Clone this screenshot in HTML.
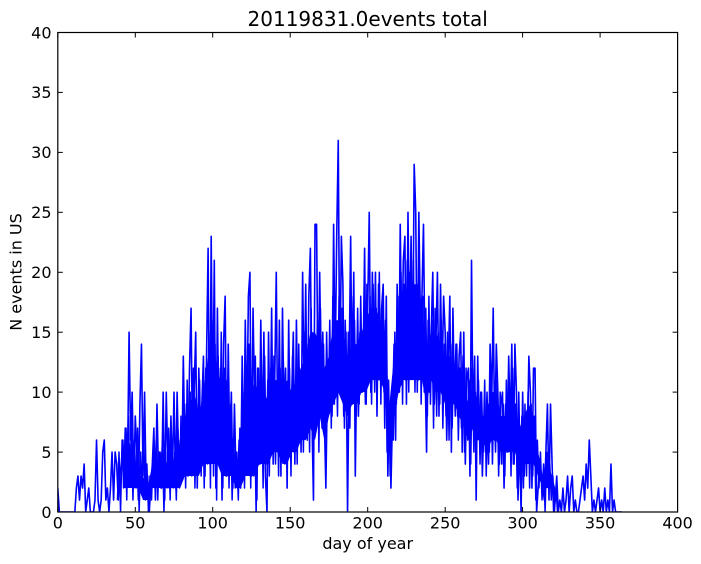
<!DOCTYPE html>
<html>
<head>
<meta charset="utf-8">
<style>
html,body{margin:0;padding:0;background:#fff;}
svg{display:block;}
text{font-family:"DejaVu Sans","Liberation Sans",sans-serif;fill:#000;}
</style>
</head>
<body>
<svg width="701" height="564" viewBox="0 0 701 564" xmlns="http://www.w3.org/2000/svg">
<defs>
<clipPath id="ax"><rect x="57.8" y="32.5" width="619.8" height="479.5"/></clipPath>
</defs>
<rect x="0" y="0" width="701" height="564" fill="#fff"/>
<g clip-path="url(#ax)">
<g transform="translate(57.8,512) scale(1.5495,-11.9875)">
<polygon fill="#0000ff" stroke="none" points="42,3 46,6 49,4 52,3 55,3 58,2 61,4 64,4 67,5 70,4 73,5 76,4 79,6 82,8 85,9 88,10 91,8 94,10 97,13 100,14 103,12 106,10 109,11 112,7 115,4 118,5 121,9 124,12 127,10 130,11 133,9 136,10 139,11 142,11 145,10 148,11 151,10 154,11 157,12 160,13 163,15 166,15 169,14 172,12 175,13 178,16 181,16 184,15 187,13 190,14 193,14 196,15 199,16 202,17 205,17 208,16 211,15 214,9 217,13 220,16 223,18 226,19 229,19 232,19 235,17 238,14 241,15 244,15 247,14 250,13 253,13 256,12 259,11 262,11 265,9 268,11 271,9 274,8 277,8 280,10 283,10 286,8 289,8 292,9 295,9 298,7 301,8 304,9 307,8 310,5 313,3 316,4 319,3 321,2 321,1 319,2 316,2 313,2 310,3 307,4 304,4 301,4 298,4 295,5 292,5 289,5 286,5 283,6 280,6 277,5 274,6 271,6 268,7 265,6 262,7 259,8 256,9 253,9 250,9 247,10 244,10 241,11 238,9 235,11 232,11 229,11 226,11 223,11 220,10 217,8 214,5 211,10 208,11 205,11 202,11 199,10 196,10 193,9 190,9 187,8 184,9 181,10 178,9 175,8 172,6 169,8 166,6 163,7 160,6 157,6 154,5 151,5 148,4 145,4 142,5 139,5 136,4 133,4 130,4 127,3 124,3 121,3 118,2 115,2 112,3 109,3 106,3 103,4 100,4 97,4 94,4 91,3 88,3 85,3 82,3 79,2 76,2 73,2 70,2 67,2 64,2 61,2 58,1 55,1 52,2 49,2 46,2 42,2"/>
<polyline vector-effect="non-scaling-stroke" fill="none" stroke="#0000ff" stroke-width="1.5" stroke-linejoin="round" points="38.5,1 39.5,5 40.5,0 41.5,6 42.5,2 43.5,7 44.5,1 45.5,8 46.5,3 47.5,7 48.5,1 49.5,6 50.5,2 51.5,7 52.5,0 53.5,5 54.5,2 55.5,6 56.5,1 57.5,4 58.5,0 59.5,3 60.5,1 61.5,5 62.5,2 63.5,6 64.5,1 65.5,5 66.5,2 67.5,6 68.5,0 69.5,5 70.5,2 71.5,7 72.5,1 73.5,6 74.5,2 75.5,5 76.5,1 77.5,7 78.5,2 79.5,8 80.5,3 81.5,9 82.5,2 83.5,11 84.5,4 85.5,10 86.5,3 87.5,12 88.5,2 89.5,9 90.5,4 91.5,11 92.5,3 93.5,10 94.5,2 95.5,12 96.5,4 97.5,15 98.5,2 99.5,16 100.5,3 101.5,14 102.5,1 103.5,13 104.5,4 105.5,15 106.5,2 107.5,12 108.5,3 109.5,11 110.5,2 111.5,9 112.5,1 113.5,6 114.5,2 115.5,5 116.5,1 117.5,7 118.5,3 119.5,10 120.5,2 121.5,12 122.5,4 123.5,14 124.5,2 125.5,11 126.5,3 127.5,13 128.5,1 129.5,12 130.5,4 131.5,11 132.5,2 133.5,13 134.5,4 135.5,11 136.5,3 137.5,12 138.5,5 139.5,13 140.5,4 141.5,11 142.5,3 143.5,12 144.5,5 145.5,13 146.5,4 147.5,10 148.5,5 149.5,12 150.5,3 151.5,13 152.5,5 153.5,11 154.5,4 155.5,14 156.5,6 157.5,12 158.5,5 159.5,15 160.5,7 161.5,14 162.5,5 163.5,17 164.5,6 165.5,15 166.5,8 167.5,16 168.5,5 169.5,17 170.5,7 171.5,14 172.5,6 173.5,15 174.5,8 175.5,16 176.5,7 177.5,18 178.5,9 179.5,16 180.5,8 181.5,18 182.5,10 183.5,17 184.5,8 185.5,16 186.5,9 187.5,15 188.5,7 189.5,18 190.5,10 191.5,16 192.5,8 193.5,17 194.5,9 195.5,18 196.5,10 197.5,16 198.5,9 199.5,19 200.5,11 201.5,18 202.5,9 203.5,19 204.5,10 205.5,17 206.5,11 207.5,20 208.5,9 209.5,18 210.5,10 211.5,16 212.5,5 213.5,11 214.5,3 215.5,10 216.5,6 217.5,15 218.5,9 219.5,18 220.5,10 221.5,20 222.5,9 223.5,19 224.5,11 225.5,21 226.5,10 227.5,20 228.5,12 229.5,21 230.5,10 231.5,19 232.5,11 233.5,20 234.5,9 235.5,18 236.5,10 237.5,17 238.5,8 239.5,18 240.5,9 241.5,16 242.5,7 243.5,17 244.5,8 245.5,15 246.5,9 247.5,16 248.5,7 249.5,14 250.5,8 251.5,15 252.5,6 253.5,14 254.5,7 255.5,13 256.5,8 257.5,14 258.5,6 259.5,12 260.5,7 261.5,13 262.5,5 263.5,12 264.5,6 265.5,11 266.5,4 267.5,12 268.5,5 269.5,10 270.5,6 271.5,11 272.5,4 273.5,10 274.5,5 275.5,11 276.5,3 277.5,9 278.5,5 279.5,12 280.5,4 281.5,10 282.5,5 283.5,11 284.5,3 285.5,10 286.5,4 287.5,9 288.5,3 289.5,11 290.5,5 291.5,10 292.5,3 293.5,12 294.5,4 295.5,9 296.5,2 297.5,10 298.5,3 299.5,8 300.5,2 301.5,9 302.5,3 303.5,10 304.5,2 305.5,9 306.5,3 307.5,8 308.5,1 309.5,6 310.5,2 311.5,5 312.5,1 313.5,4 314.5,0 315.5,5 316.5,2 317.5,4 318.5,1 319.5,3 320.5,0 321.5,2 322.5,0"/>
<polyline vector-effect="non-scaling-stroke" fill="none" stroke="#0000ff" stroke-width="1.6" stroke-linejoin="round" points="0,2 1,0 2,0 3,0 4,0 5,0 6,0 7,0 8,0 9,0 10,0 11,0 12,2 13,3 14,1 15,3 16,2 17,4 18,0 19,1 20,2 21,0 22,0 23,0 24,1 25,6 26,1 27,0 28,1 29,5 30,6 31,1 32,2 33,0 34,2 35,5 36,1 37,5 38,4 39,1 40,3 41,4 42,6 43,3 44,7 45,4 46,15 47,6 48,10 49,2 50,8 51,5 52,1 53,9 54,14 55,3 56,10 57,2 58,3 59,0 60,2 61,4 62,7 63,1 64,9 65,3 66,5 67,2 68,10 69,1 70,10 71,4 72,2 73,8 74,3 75,10 76,2 77,10 78,4 79,6 80,3 81,13 82,5 83,9 84,3 85,12 86,17 87,4 88,10 89,15 90,2 91,12 92,6 93,9 94,13 95,3 96,13 97,22 98,4 99,23 100,8 101,21 102,2 103,17 104,6 105,12 106,1 107,14 108,18 109,3 110,14 111,5 112,10 113,2 114,9 115,3 116,2 117,6 118,2 119,13 120,4 121,16 122,7 123,18 124,20 125,3 126,17 127,9 128,0 129,12 130,4 131,16 132,6 133,15 134,3 135,0 136,15 137,6 138,17 139,4 140,11 141,20 142,5 143,16 144,3 145,17 146,8 147,12 148,2 149,16 150,6 151,10 152,15 153,4 154,16 155,7 156,12 157,5 158,20 159,9 160,19 161,6 162,18 163,22 164,8 165,1 166,24 167,24 168,9 169,20 170,11 171,15 172,8 173,2 174,11 175,9 176,14 177,8 178,24 179,12 180,23 181,31 182,10 183,23 184,19 185,7 186,15 187,0 188,12 189,23 190,9 191,20 192,3 193,13 194,8 195,15 196,10 197,12 198,22 199,9 200,17 201,25 202,10 203,20 204,12 205,20 206,8 207,19 208,11 209,17 210,19 211,7 212,18 213,3 214,9 215,2 216,8 217,14 218,6 219,19 220,10 221,24 222,13 223,21 224,23 225,9 226,25 227,14 228,23 229,12 230,29 231,25 232,10 233,25 234,16 235,18 236,24 237,12 238,5 239,16 240,10 241,15 242,20 243,9 244,14 245,20 246,8 247,19 248,11 249,18 250,15 251,6 252,12 253,18 254,5 255,17 256,9 257,14 258,8 259,13 260,15 261,5 262,15 263,4 264,11 265,12 266,3 267,21 268,7 269,13 270,1 271,13 272,6 273,10 274,3 275,8 276,5 277,10 278,4 279,14 280,9 281,17 282,6 283,14 284,10 285,4 286,9 287,10 288,2 289,9 290,5 291,13 292,7 293,14 294,4 295,14 296,10 297,1 298,6 299,0 300,10 301,3 302,8 303,5 304,13 305,10 306,2 307,12 308,12 309,0 310,2 311,4 312,3 313,2 314,1 315,5 316,9 317,1 318,9 319,4 320,0 321,1 322,3 323,0 324,1 325,0 326,2 327,0 328,1 329,3 330,0 331,2 332,3 333,0 334,1 335,0 336,0 337,1 338,2 339,3 340,1 341,4 342,2 343,6 344,3 345,0 346,1 347,0 348,1 349,2 350,0 351,1 352,0 353,2 354,0 355,1 356,0 357,4 358,0 359,1 360,0 361,0 362,0 363,0 364,0"/>
</g>
</g>
<rect x="57.8" y="32.5" width="619.8" height="479.5" fill="none" stroke="#000" stroke-width="1.2"/>
<g stroke="#000" stroke-width="1">
<line x1="57.8" y1="512" x2="57.8" y2="507"/><line x1="57.8" y1="32.5" x2="57.8" y2="37.5"/>
<line x1="135.3" y1="512" x2="135.3" y2="507"/><line x1="135.3" y1="32.5" x2="135.3" y2="37.5"/>
<line x1="212.7" y1="512" x2="212.7" y2="507"/><line x1="212.7" y1="32.5" x2="212.7" y2="37.5"/>
<line x1="290.2" y1="512" x2="290.2" y2="507"/><line x1="290.2" y1="32.5" x2="290.2" y2="37.5"/>
<line x1="367.7" y1="512" x2="367.7" y2="507"/><line x1="367.7" y1="32.5" x2="367.7" y2="37.5"/>
<line x1="445.2" y1="512" x2="445.2" y2="507"/><line x1="445.2" y1="32.5" x2="445.2" y2="37.5"/>
<line x1="522.6" y1="512" x2="522.6" y2="507"/><line x1="522.6" y1="32.5" x2="522.6" y2="37.5"/>
<line x1="600.1" y1="512" x2="600.1" y2="507"/><line x1="600.1" y1="32.5" x2="600.1" y2="37.5"/>
<line x1="57.8" y1="452.1" x2="62.8" y2="452.1"/><line x1="677.6" y1="452.1" x2="672.6" y2="452.1"/>
<line x1="57.8" y1="392.1" x2="62.8" y2="392.1"/><line x1="677.6" y1="392.1" x2="672.6" y2="392.1"/>
<line x1="57.8" y1="332.2" x2="62.8" y2="332.2"/><line x1="677.6" y1="332.2" x2="672.6" y2="332.2"/>
<line x1="57.8" y1="272.3" x2="62.8" y2="272.3"/><line x1="677.6" y1="272.3" x2="672.6" y2="272.3"/>
<line x1="57.8" y1="212.3" x2="62.8" y2="212.3"/><line x1="677.6" y1="212.3" x2="672.6" y2="212.3"/>
<line x1="57.8" y1="152.4" x2="62.8" y2="152.4"/><line x1="677.6" y1="152.4" x2="672.6" y2="152.4"/>
<line x1="57.8" y1="92.4" x2="62.8" y2="92.4"/><line x1="677.6" y1="92.4" x2="672.6" y2="92.4"/>
</g>
<g font-size="16" text-anchor="middle">
<text x="57.8" y="528.5">0</text>
<text x="135.3" y="528.5">50</text>
<text x="212.7" y="528.5">100</text>
<text x="290.2" y="528.5">150</text>
<text x="367.7" y="528.5">200</text>
<text x="445.2" y="528.5">250</text>
<text x="522.6" y="528.5">300</text>
<text x="600.1" y="528.5">350</text>
<text x="677.6" y="528.5">400</text>
</g>
<g font-size="16" text-anchor="end">
<text x="51.5" y="517.8">0</text>
<text x="51.5" y="457.9">5</text>
<text x="51.5" y="397.9">10</text>
<text x="51.5" y="338">15</text>
<text x="51.5" y="278.1">20</text>
<text x="51.5" y="218.1">25</text>
<text x="51.5" y="158.2">30</text>
<text x="51.5" y="98.2">35</text>
<text x="51.5" y="38.3">40</text>
</g>
<text x="367.7" y="26" font-size="20" text-anchor="middle">20119831.0events total</text>
<text x="367.7" y="549" font-size="16" text-anchor="middle">day of year</text>
<text transform="translate(21.5,272) rotate(-90)" font-size="16" text-anchor="middle">N events in US</text>
</svg>
</body>
</html>
